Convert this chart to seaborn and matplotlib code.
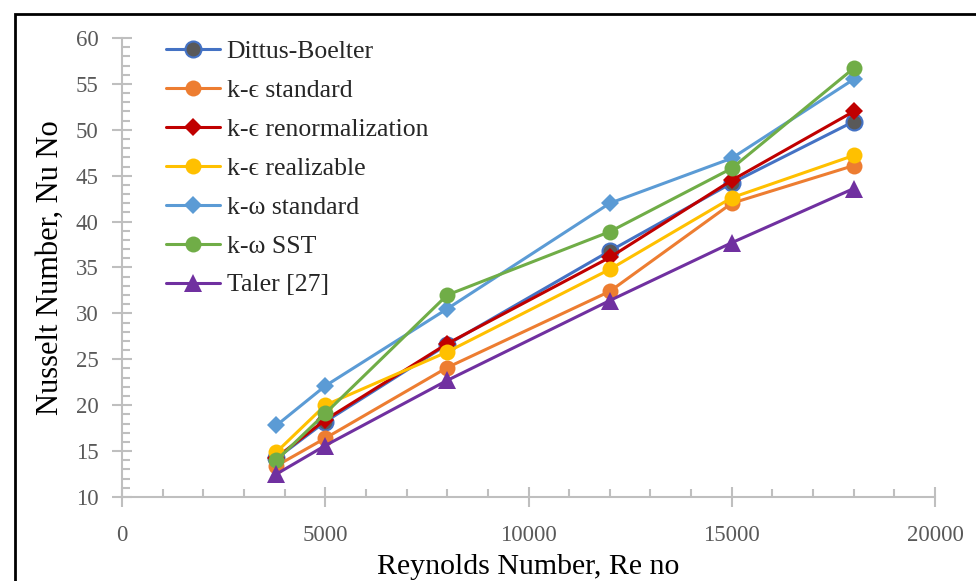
import matplotlib
matplotlib.use("Agg")
import matplotlib.pyplot as plt
import seaborn as sns
from matplotlib.patches import Rectangle
from matplotlib.ticker import MultipleLocator

reynolds = [3800, 5000, 8000, 12000, 15000, 18000]
dittus_boelter = [14.2, 18.2, 26.6, 36.8, 44.2, 50.9]
ke_standard = [13.4, 16.4, 24.1, 32.4, 42.0, 46.1]
ke_renorm = [14.3, 18.4, 26.7, 36.1, 44.5, 52.0]
ke_realizable = [14.9, 20.0, 25.8, 34.8, 42.6, 47.2]
kw_standard = [17.8, 22.1, 30.5, 42.0, 46.9, 55.5]
kw_sst = [14.0, 19.1, 32.0, 38.9, 45.8, 56.7]
taler = [12.5, 15.6, 22.7, 31.4, 37.7, 43.6]

labels = ["Dittus-Boelter", "k-\u03f5 standard", "k-\u03f5 renormalization",
          "k-\u03f5 realizable", "k-\u03c9 standard", "k-\u03c9 SST", "Taler [27]"]
series = [dittus_boelter, ke_standard, ke_renorm, ke_realizable, kw_standard, kw_sst, taler]
colors = ["#4472C4", "#ED7D31", "#C00000", "#FFC000", "#5B9BD5", "#70AD47", "#7030A0"]
faces = ["#595959", "#ED7D31", "#C00000", "#FFC000", "#5B9BD5", "#70AD47", "#7030A0"]
markers = ["o", "o", "D", "o", "D", "o", "^"]
msizes = [11.5, 11.5, 9, 11.5, 9, 11.5, 12.5]

sns.set_theme(style="white")
plt.rcParams["font.family"] = ["Liberation Serif", "DejaVu Serif"]

fig = plt.figure(figsize=(9.76, 5.81), dpi=100)
ax = fig.add_axes([0.125, 0.1446, 0.833, 0.790])

for i, (vals, lab) in enumerate(zip(series, labels)):
    sns.lineplot(x=reynolds, y=vals, ax=ax, color=colors[i], marker=markers[i],
                 markersize=msizes[i], markerfacecolor=faces[i],
                 markeredgecolor=colors[i], markeredgewidth=1.5 if i == 0 else 0,
                 linewidth=2.2, label=lab, zorder=3 + i)

ax.set_xlim(0, 20000)
ax.set_ylim(10, 60)
ax.xaxis.set_major_locator(MultipleLocator(5000))
ax.xaxis.set_minor_locator(MultipleLocator(1000))
ax.yaxis.set_major_locator(MultipleLocator(5))
ax.yaxis.set_minor_locator(MultipleLocator(1))

for side in ["top", "right"]:
    ax.spines[side].set_visible(False)
for side in ["left", "bottom"]:
    ax.spines[side].set_color("#BFBFBF")
    ax.spines[side].set_linewidth(1.5)

ax.tick_params(which="major", direction="inout", length=14, width=1.5,
               color="#BFBFBF", labelsize=16.5, labelcolor="#595959")
ax.tick_params(which="minor", direction="in", length=6, width=1.5, color="#BFBFBF")
ax.tick_params(axis="x", which="major", pad=13)
ax.tick_params(axis="y", which="major", pad=10)
ax.tick_params(left=True, bottom=True, which="both")

ax.set_xlabel("Reynolds Number, Re no", fontsize=21.5, color="black", labelpad=6)
ax.set_ylabel("Nusselt Number, Nu No", fontsize=22, color="black", labelpad=8)

leg = ax.legend(loc="upper left", bbox_to_anchor=(0.026, 1.046), frameon=False,
                fontsize=18.5, handlelength=2.1, labelspacing=0.62, handletextpad=0.25)

fig.patches.append(Rectangle((15 / 976, -0.05), 1.1, 1 - 14 / 581 + 0.05,
                             transform=fig.transFigure, fill=False,
                             edgecolor="black", linewidth=2, clip_on=False))

fig.savefig("out.png", dpi=100)
